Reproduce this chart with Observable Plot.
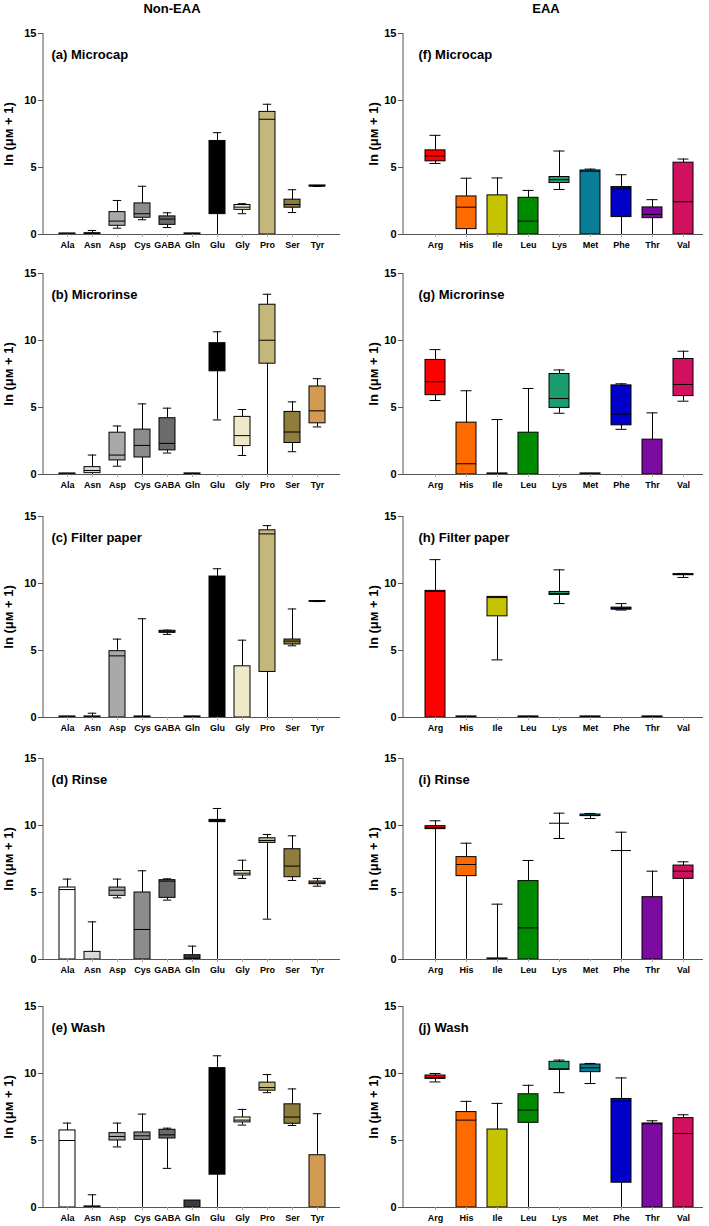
<!DOCTYPE html>
<html><head><meta charset="utf-8">
<script src="https://cdn.jsdelivr.net/npm/d3@7"></script>
<script src="https://cdn.jsdelivr.net/npm/@observablehq/plot@0.6"></script>
<style>
body{margin:0;background:#fff;}
#root{position:relative;width:709px;height:1226px;overflow:hidden;font-family:"Liberation Sans",Arial,sans-serif;background:#fff;}
.ctitle{position:absolute;top:1px;font-weight:bold;font-size:13px;transform:translateX(-50%);white-space:nowrap;color:#000;}
.panel{position:absolute;}
</style></head><body><div id="root"></div>
<script>
// ---- categories ----
const amNonEAA = ["Ala","Asn","Asp","Cys","GABA","Gln","Glu","Gly","Pro","Ser","Tyr"];
const amEAA = ["Arg","His","Ile","Leu","Lys","Met","Phe","Thr","Val"];
const fillNonEAA = ["#ffffff","#d9d9d9","#a9a9a9","#8c8c8c","#6b6b6b","#3c3c3c","#000000","#efe9c9","#c4b77c","#8e7d3c","#d39a52"];
const fillEAA = ["#ff0000","#ff6a00","#c6c400","#008a00","#1a9e6e","#0a7d96","#0000c8","#7a0aa0","#d1105f"];
const yTicks = [0, 5, 10, 15];
const yLabel = "ln (μᴍ + 1)";
const columnTitles = ["Non-EAA", "EAA"];
const labelsNonEAA = ["(a) Microcap","(b) Microrinse","(c) Filter paper","(d) Rinse","(e) Wash"];
const labelsEAA = ["(f) Microcap","(g) Microrinse","(h) Filter paper","(i) Rinse","(j) Wash"];

// ---- values: [lower whisker, Q1, median, Q3, upper whisker] ----
const nonEAA_microcap = [[0,0,0,0.08,0.08],[0,0.02,0.05,0.1,0.3],[0.47,0.65,1.0,1.67,2.54],[1.1,1.25,1.55,2.32,3.6],[0.52,0.72,1.15,1.35,1.62],[0,0,0,0.08,0.08],[0,1.52,5.0,6.98,7.6],[1.55,1.84,2.04,2.2,2.3],[0,0,8.6,9.15,9.72],[1.64,2.0,2.24,2.6,3.34],[3.58,3.58,3.62,3.66,3.66]];
const nonEAA_microrinse = [[0,0,0,0.08,0.08],[0,0.1,0.3,0.55,1.45],[0.62,1.05,1.45,3.12,3.62],[0,1.27,2.17,3.35,5.27],[1.6,1.8,2.32,4.2,4.95],[0,0,0,0.08,0.08],[4.07,7.7,8.6,9.8,10.65],[1.42,2.12,2.9,4.3,4.85],[0,8.27,10.02,12.67,13.45],[1.7,2.35,3.17,4.67,5.42],[3.55,3.82,4.75,6.57,7.15]];
const nonEAA_filter = [[0,0,0,0.08,0.08],[0,0,0,0.08,0.32],[0,0,4.6,4.95,5.85],[0,0,0,0.08,7.37],[6.2,6.32,6.4,6.47,6.52],[0,0,0,0.08,0.08],[0,0,10.3,10.52,11.1],[0,0,0,3.82,5.77],[0,3.4,13.7,13.97,14.32],[5.35,5.45,5.7,5.82,8.1],[8.65,8.65,8.67,8.69,8.69]];
const nonEAA_rinse = [[0,0,5.22,5.37,6.0],[0,0,0,0.57,2.81],[4.6,4.75,5.17,5.37,6.0],[0,0,2.24,5.0,6.62],[4.43,4.6,5.85,5.92,6.02],[0,0,0.1,0.32,1.0],[0,10.25,10.35,10.42,11.27],[6.05,6.27,6.44,6.6,7.41],[3.01,8.7,8.88,9.05,9.33],[5.9,6.14,6.97,8.23,9.23],[5.47,5.62,5.72,5.82,6.05]];
const nonEAA_wash = [[0,0,5.0,5.75,6.3],[0,0,0,0.08,0.95],[4.52,5.0,5.3,5.55,6.3],[0,5.05,5.35,5.6,6.97],[2.92,5.15,5.42,5.8,5.92],[0,0,0,0.52,0.52],[0,2.45,8.0,10.4,11.32],[6.15,6.35,6.52,6.72,7.32],[8.57,8.72,8.95,9.32,9.92],[6.12,6.25,6.75,7.7,8.85],[0,0,0,3.9,7.0]];

const EAA_microcap = [[5.3,5.46,5.86,6.28,7.4],[0,0.4,2.04,2.84,4.2],[0,0,0,2.92,4.22],[0,0,1.0,2.74,3.29],[3.36,3.84,4.09,4.29,6.23],[0,0,4.72,4.78,4.88],[0,1.3,3.4,3.54,4.46],[0,1.22,1.5,2.02,2.6],[0,0,2.44,5.36,5.63]];
const EAA_microrinse = [[5.52,5.92,6.92,8.55,9.32],[0,0,0.8,3.87,6.25],[0,0,0,0.08,4.1],[0,0,0,3.12,6.42],[4.57,4.97,5.67,7.5,7.8],[0,0,0,0.08,0.08],[3.37,3.67,4.5,6.65,6.77],[0,0,0,2.6,4.6],[5.47,5.85,6.72,8.62,9.2]];
const EAA_filter = [[0,0,9.4,9.45,11.78],[0,0,0,0.08,0.08],[4.3,7.55,8.95,9.0,9.02],[0,0,0,0.08,0.08],[8.5,9.15,9.25,9.37,11.02],[0,0,0,0.08,0.08],[8.02,8.05,8.12,8.2,8.5],[0,0,0,0.08,0.08],[10.45,10.62,10.67,10.7,10.75]];
const EAA_rinse = [[0,9.73,9.83,9.95,10.35],[0,6.22,7.09,7.64,8.68],[0,0,0,0.08,4.13],[0,0,2.36,5.85,7.39],[9.03,10.17,10.17,10.17,10.92],[10.52,10.7,10.75,10.82,10.9],[0,8.13,8.13,8.13,9.5],[0,0,0,4.65,6.59],[0,6.02,6.59,7.01,7.29]];
const EAA_wash = [[9.37,9.6,9.7,9.85,10.0],[0,0,6.52,7.12,7.92],[0,0,0,5.82,7.77],[0,6.32,7.27,8.45,9.12],[8.57,10.27,10.35,10.87,11.0],[9.25,10.1,10.42,10.67,10.75],[0,1.85,7.92,8.1,9.67],[0,0,6.25,6.27,6.47],[0,0,5.52,6.67,6.92]];

const nonEAAPanels = [nonEAA_microcap, nonEAA_microrinse, nonEAA_filter, nonEAA_rinse, nonEAA_wash];
const EAAPanels = [EAA_microcap, EAA_microrinse, EAA_filter, EAA_rinse, EAA_wash];

// ---- layout ----
const FONT = '"Liberation Sans", Arial, sans-serif';
const plotTops = [33, 272.7, 516, 758.3, 1005.7];
const MT = 12, PH = 201, MB = 20;
const AXIS = "#555";
const root = document.getElementById("root");

const colSpec = [
  {left: 0, width: 355, mL: 43, mR: 15, range: [48.8, 335.2], pi: 0.36, labelDx: 8, yLabDx: -35, cap: 3.8, titleX: 172},
  {left: 355, width: 354, mL: 48, mR: 6, range: [61.7, 346.3], pi: 0.365, labelDx: 15, yLabDx: -30, cap: 4.5, titleX: 546}
];

columnTitles.forEach((t, c) => {
  const d = document.createElement("div");
  d.className = "ctitle";
  d.style.left = colSpec[c].titleX + "px";
  d.textContent = t;
  root.appendChild(d);
});

// vertical axis line along the y scale's extent at the frame's left edge
function yAxisLine(index, scales, values, dims) {
  const [d0, d1] = scales.scales.y.domain;
  const l = document.createElementNS("http://www.w3.org/2000/svg", "line");
  l.setAttribute("x1", dims.marginLeft);
  l.setAttribute("x2", dims.marginLeft);
  l.setAttribute("y1", scales.y(d0));
  l.setAttribute("y2", scales.y(d1));
  l.setAttribute("stroke", AXIS);
  l.setAttribute("stroke-width", 1);
  return l;
}

function makePanel(cats, fills, values, label, spec) {
  const rows = cats.map((cat, i) => ({cat, fill: fills[i], lo: values[i][0], q1: values[i][1], med: values[i][2], q3: values[i][3], hi: values[i][4]}));
  return Plot.plot({
    width: spec.width, height: MT + PH + MB,
    marginTop: MT, marginBottom: MB, marginLeft: spec.mL, marginRight: spec.mR,
    style: {fontFamily: FONT, fontWeight: "bold", background: "transparent", overflow: "visible", color: "#000"},
    x: {type: "band", domain: cats, range: spec.range, paddingInner: spec.pi, paddingOuter: 0.2, axis: null},
    y: {domain: [0, 15], axis: null},
    color: {type: "identity"},
    marks: [
      Plot.ruleX(rows, {x: "cat", y1: "lo", y2: "hi", stroke: "#000", strokeWidth: 1}),
      Plot.tickY(rows, {x: "cat", y: "hi", insetLeft: spec.cap, insetRight: spec.cap, stroke: "#000", strokeWidth: 1}),
      Plot.tickY(rows, {x: "cat", y: "lo", insetLeft: spec.cap, insetRight: spec.cap, stroke: "#000", strokeWidth: 1}),
      Plot.barY(rows, {x: "cat", y1: "q1", y2: "q3", fill: "fill", stroke: "#000", strokeWidth: 1}),
      Plot.tickY(rows, {x: "cat", y: "med", stroke: "#000", strokeWidth: 1}),
      Plot.ruleY([0], {stroke: AXIS, strokeWidth: 1}),
      yAxisLine,
      Plot.axisY(yTicks, {tickSize: 5, tickPadding: 2, fontSize: 11, label: null, stroke: AXIS}),
      Plot.axisX({tickSize: 3, tickPadding: 4, fontSize: 9, label: null, stroke: "#aaa"}),
      Plot.text([label], {frameAnchor: "top-left", dx: spec.labelDx, dy: 16, fontSize: 13, fontWeight: "bold", textAnchor: "start", lineAnchor: "top"}),
      Plot.text([yLabel], {frameAnchor: "left", dx: spec.yLabDx, rotate: -90, fontSize: 13, fontWeight: "bold", textAnchor: "middle"})
    ]
  });
}

for (let c = 0; c < 2; c++) {
  const spec = colSpec[c];
  const cats = c === 0 ? amNonEAA : amEAA;
  const fills = c === 0 ? fillNonEAA : fillEAA;
  const panels = c === 0 ? nonEAAPanels : EAAPanels;
  const labels = c === 0 ? labelsNonEAA : labelsEAA;
  panels.forEach((vals, r) => {
    const div = document.createElement("div");
    div.className = "panel";
    div.style.left = spec.left + "px";
    div.style.top = (plotTops[r] - MT) + "px";
    div.appendChild(makePanel(cats, fills, vals, labels[r], spec));
    root.appendChild(div);
  });
}
</script>
</body></html>
